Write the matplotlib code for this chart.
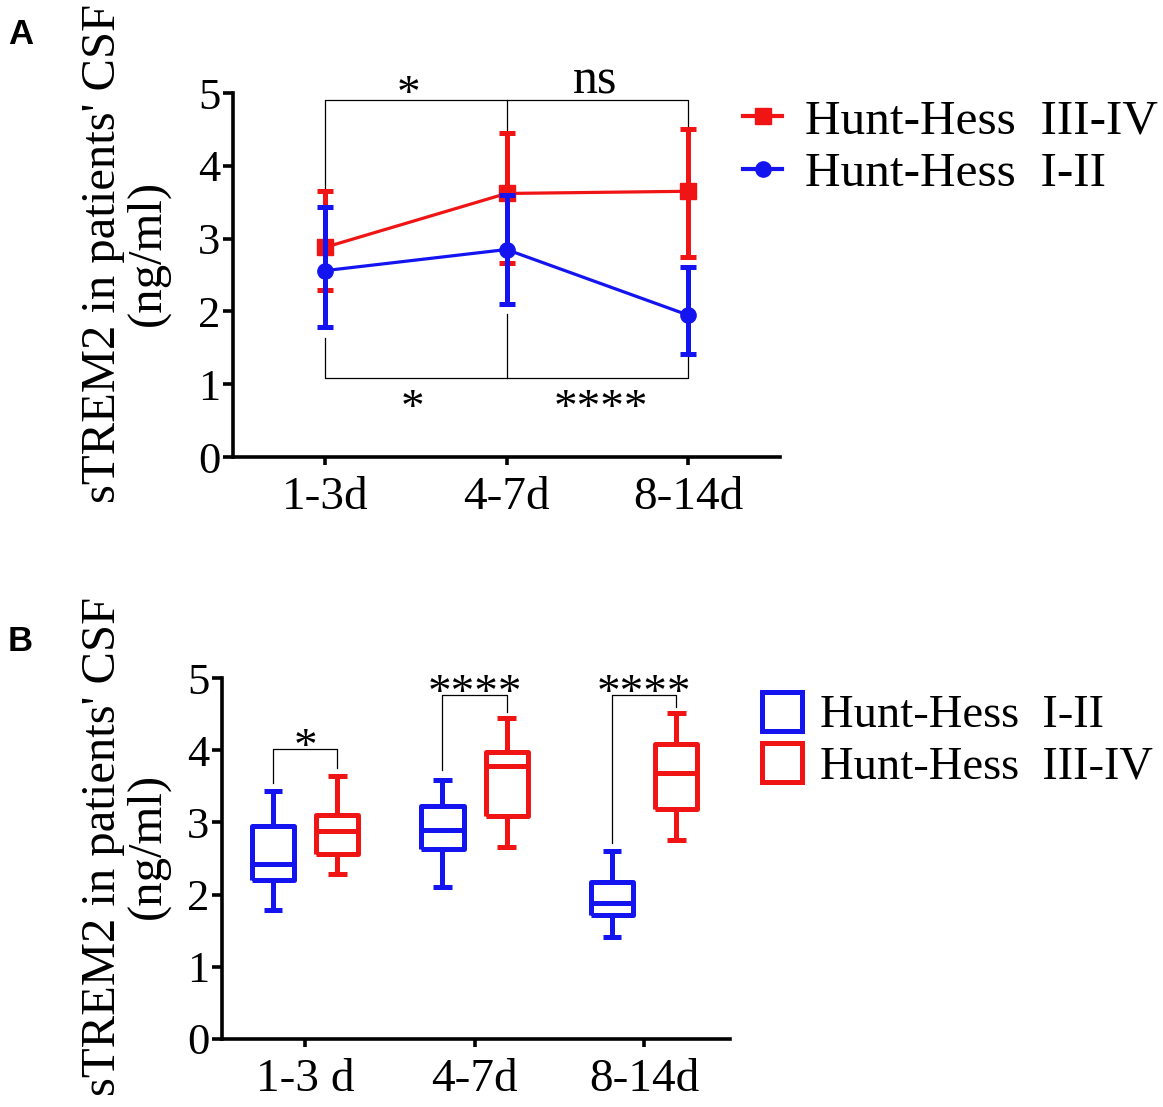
import numpy as np
import matplotlib
matplotlib.use('Agg')
import matplotlib.pyplot as plt
from matplotlib.lines import Line2D
from matplotlib.patches import Rectangle

plt.rcParams['font.family'] = ['Liberation Serif', 'DejaVu Serif']

# panel A: mean with range bars
days_a = ['1-3d', '4-7d', '8-14d']
high_mean = [2.88, 3.62, 3.65]
high_upper = [3.65, 4.45, 4.51]
high_lower = [2.29, 2.66, 2.75]
low_mean = [2.56, 2.85, 1.95]
low_upper = [3.44, 3.60, 2.61]
low_lower = [1.79, 2.10, 1.41]

# panel B: box plot stats
days_b = ['1-3 d', '4-7d', '8-14d']
low_whislo = [1.79, 2.10, 1.41]
low_q1 = [2.20, 2.63, 1.72]
low_med = [2.43, 2.89, 1.88]
low_q3 = [2.95, 3.23, 2.18]
low_whishi = [3.44, 3.59, 2.61]
high_whislo = [2.29, 2.66, 2.76]
high_q1 = [2.56, 3.09, 3.19]
high_med = [2.88, 3.78, 3.69]
high_q3 = [3.10, 3.98, 4.08]
high_whishi = [3.64, 4.44, 4.52]

label_low = 'Hunt-Hess  I-II'
label_high = 'Hunt-Hess  III-IV'

RED = '#f01414'
BLUE = '#1414f0'
W, H = 1163, 1107

fig = plt.figure(figsize=(W / 100, H / 100), dpi=100)


def px_axes(left, right, top, bottom):
    return fig.add_axes([left / W, 1 - bottom / H, (right - left) / W, (bottom - top) / H])


def style_axes(ax, labels):
    for s in ['top', 'right']:
        ax.spines[s].set_visible(False)
    for s in ['left', 'bottom']:
        ax.spines[s].set_linewidth(2.6)
    ax.set_ylim(0, 5)
    ax.set_yticks(range(6))
    ax.set_xticks(range(3))
    ax.set_xticklabels(labels)
    ax.tick_params(axis='y', length=7, width=2.6, labelsize=32, pad=2)
    ax.tick_params(axis='x', length=6, width=2.6, labelsize=34, pad=8)


def star(ax, x, y, s, size=34):
    # asterisks sit high in the glyph box, so pull them down a bit
    ax.text(x, y, s, ha='center', va='center', fontsize=size, clip_on=False,
            transform=ax.transData + matplotlib.transforms.ScaledTranslation(0, -0.12, fig.dpi_scale_trans))


# ---------- panel A ----------
axA = px_axes(233, 780, 93, 457)
style_axes(axA, days_a)
axA.set_xlim(-0.507, 2.507)
x = np.arange(3)

hm = np.array(high_mean)
lm = np.array(low_mean)
axA.errorbar(x, hm, yerr=[hm - np.array(high_lower), np.array(high_upper) - hm],
             color=RED, lw=2.3, elinewidth=3.6, capsize=6, capthick=3.6,
             marker='s', ms=11, zorder=3, clip_on=False)
axA.errorbar(x, lm, yerr=[lm - np.array(low_lower), np.array(low_upper) - lm],
             color=BLUE, lw=2.3, elinewidth=3.6, capsize=6, capthick=3.6,
             marker='o', ms=11, zorder=4, clip_on=False)

# comparison brackets (III-IV above, I-II below)
bk = dict(color='black', lw=0.9, clip_on=False, zorder=2)
axA.plot([0, 0, 2, 2], [3.65, 4.90, 4.90, 4.51], **bk)
axA.plot([1, 1], [4.90, 4.45], **bk)
axA.plot([0, 0, 2, 2], [1.64, 1.085, 1.085, 1.41], **bk)
axA.plot([1, 1], [1.085, 1.96], **bk)
star(axA, 0.46, 5.13, '*')
axA.text(1.49, 5.0, 'ns', ha='center', va='baseline', fontsize=36, clip_on=False)
star(axA, 0.48, 0.82, '*')
star(axA, 1.52, 0.82, '****')

hA = [Line2D([], [], color=RED, marker='s', lw=3, ms=11),
      Line2D([], [], color=BLUE, marker='o', lw=3, ms=11)]
fig.legend(hA, [label_high, label_low], loc='upper left',
           bbox_to_anchor=(743 / W, 1 - 99 / H), frameon=False, fontsize=35.5,
           borderpad=0, borderaxespad=0, handlelength=0.8, handletextpad=0.45,
           labelspacing=0.16)

# ---------- panel B ----------
axB = px_axes(222, 730, 678, 1039)
style_axes(axB, days_b)
axB.set_xlim(-0.49, 2.507)
off = 0.19


def box_stats(lo, q1, med, q3, hi):
    return [dict(whislo=a, q1=b, med=c, q3=d, whishi=e, fliers=[])
            for a, b, c, d, e in zip(lo, q1, med, q3, hi)]


for stats, pos, col in [
        (box_stats(low_whislo, low_q1, low_med, low_q3, low_whishi), x - off, BLUE),
        (box_stats(high_whislo, high_q1, high_med, high_q3, high_whishi), x + off, RED)]:
    lp = dict(color=col, lw=3.6, solid_joinstyle='round', solid_capstyle='butt')
    axB.bxp(stats, positions=pos, widths=0.25, showfliers=False, capwidths=0.11,
            boxprops=lp, whiskerprops=lp, capprops=lp, medianprops=lp,
            manage_ticks=False)

axB.set_xticks(range(3))
axB.set_xticklabels(days_b)

brk_y = [4.02, 4.76, 4.76]
brk_left = [3.55, 3.72, 2.72]
brk_right = [3.75, 4.53, 4.60]
brk_txt = ['*', '****', '****']
for i in range(3):
    axB.plot([i - off, i - off, i + off, i + off],
             [brk_left[i], brk_y[i], brk_y[i], brk_right[i]], **bk)
    star(axB, i, brk_y[i] + 0.17, brk_txt[i])

hB = [Rectangle((0, 0), 1, 1, facecolor='white', edgecolor=BLUE, lw=3.6, joinstyle='round'),
      Rectangle((0, 0), 1, 1, facecolor='white', edgecolor=RED, lw=3.6, joinstyle='round')]
fig.legend(hB, [label_low, label_high], loc='upper left',
           bbox_to_anchor=(762 / W, 1 - 692 / H), frameon=False, fontsize=33.5,
           borderpad=0, borderaxespad=0, handlelength=0.85, handleheight=0.9,
           handletextpad=0.4, labelspacing=0.12)

# y labels and panel letters
for yc in [253, 846]:
    fig.text(103 / W, 1 - yc / H, "sTREM2 in patients' CSF", rotation=90,
             ha='center', va='center', fontsize=35)
    fig.text(148 / W, 1 - yc / H, '(ng/ml)', rotation=90,
             ha='center', va='center', fontsize=35)

fig.text(8 / W, 1 - 44 / H, 'A', fontsize=25, fontweight='bold',
         family='Liberation Sans', ha='left', va='baseline')
fig.text(8 / W, 1 - 651 / H, 'B', fontsize=25, fontweight='bold',
         family='Liberation Sans', ha='left', va='baseline')

fig.savefig('out.png', dpi=100)
